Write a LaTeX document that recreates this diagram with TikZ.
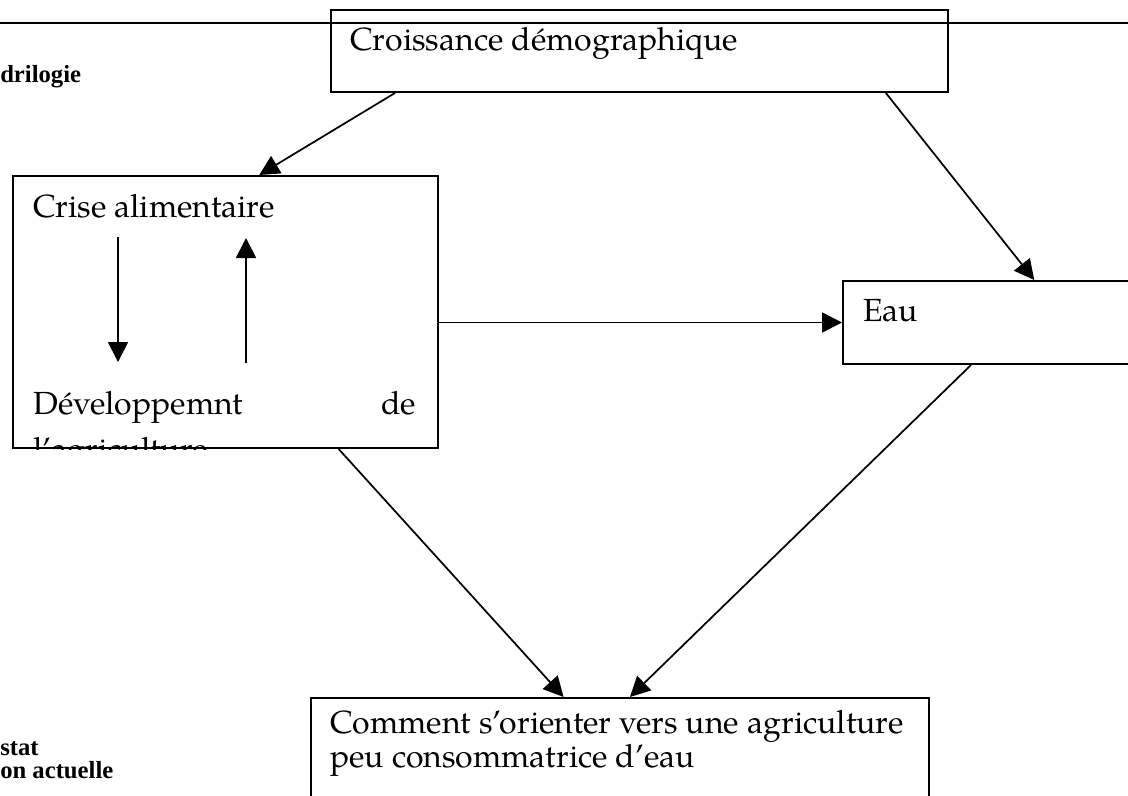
\documentclass[tikz,border=0pt]{standalone}
\usepackage{fontspec}
\setmainfont{texgyrepagella-regular.otf}
\newfontfamily\sidefont{Liberation Serif}
\usetikzlibrary{calc,arrows.meta}
\tikzset{
  box/.style={draw,line width=1.5pt,rectangle,anchor=north west,inner sep=0pt},
  boxtext/.style={anchor=base west,inner sep=0pt,font=\fontsize{24}{25.5}\selectfont},
  sidetext/.style={anchor=base west,inner sep=0pt,font=\sidefont\bfseries\fontsize{18.5}{20}\selectfont},
  link/.style={line width=1.3pt,-{Triangle[length=15pt,width=15pt]}}
}
\begin{document}
\begin{tikzpicture}[x=0.75pt,y=-0.75pt]
\clip (0,0) rectangle (1128,796);
\draw[line width=1.5pt] (0,23) -- (1128,23);

% the four boxes
\node[box,minimum width=462.75pt,minimum height=61.5pt] (croiss) at (330,9) {};
\node[box,minimum width=318.75pt,minimum height=204pt] (crise) at (12,175) {};
\node[box,minimum width=223.5pt,minimum height=62.25pt] (eau) at (842,280) {};
\node[box,minimum width=463.5pt,minimum height=99.75pt] (orient) at (310,697) {};

\node[boxtext] (croisstext) at (350,50) {Croissance démographique};
\node[boxtext] (crisetext) at (33,217) {Crise alimentaire};
\node[boxtext] (eautext) at (863,321) {Eau};
\node[boxtext] (orienttext) at (330,733)
  {\parbox[t]{500pt}{Comment s’orienter vers une agriculture\\peu consommatrice d’eau}};

\begin{scope} % text cut by the box
\clip (crise.north west) rectangle (crise.south east);
\node[boxtext] (devtext) at (33,414)
  {\parbox[t]{287pt}{\baselineskip=35pt Développemnt de \mbox{l’agriculture}}};
\end{scope}

\node[sidetext] (quad) at (0,82) {drilogie};
\node[sidetext] (constat) at (0,755) {stat};
\node[sidetext] (situation) at (0,778) {on actuelle};

% loop inside the crisis box
\coordinate (down1) at ($(crise.north west)+(106,62)$);
\coordinate (down2) at ($(crise.north west)+(106,187)$);
\coordinate (up1) at ($(crise.north west)+(234,188)$);
\coordinate (up2) at ($(crise.north west)+(234,63)$);
\draw[link] (down1) -- (down2);
\draw[link] (up1) -- (up2);

\draw[link] ($(croiss.south west)!0.105!(croiss.south east)$) -- ($(crise.north west)!0.579!(crise.north east)$);
\draw[link] ($(croiss.south west)!0.898!(croiss.south east)$) -- ($(eau.north west)!0.641!(eau.north east)$);
\draw[link] (crise.east |- eau.west) -- (eau.west);
\draw[link] ($(crise.south west)!0.765!(crise.south east)$) -- ($(orient.north west)!0.409!(orient.north east)$);
\draw[link] ($(eau.south west)!0.43!(eau.south east)$) -- ($(orient.north west)!0.516!(orient.north east)$);
\end{tikzpicture}
\end{document}
